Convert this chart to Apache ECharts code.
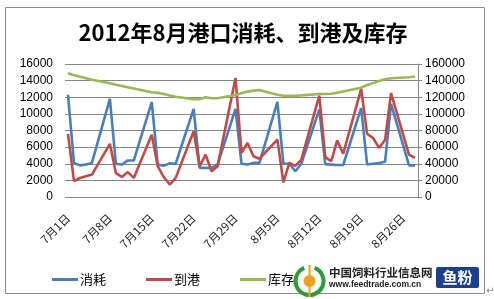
<!DOCTYPE html>
<html><head><meta charset="utf-8">
<script src="https://cdn.jsdelivr.net/npm/echarts@6/dist/echarts.min.js"></script>
<style>html,body{margin:0;padding:0;background:#fff}#c{width:494px;height:299px}</style>
</head><body><div id="c"></div>
<script>
const dates = ['7月1日','7月2日','7月3日','7月4日','7月5日','7月6日','7月7日','7月8日','7月9日','7月10日',
'7月11日','7月12日','7月13日','7月14日','7月15日','7月16日','7月17日','7月18日','7月19日','7月20日',
'7月21日','7月22日','7月23日','7月24日','7月25日','7月26日','7月27日','7月28日','7月29日','7月30日',
'7月31日','8月1日','8月2日','8月3日','8月4日','8月5日','8月6日','8月7日','8月8日','8月9日',
'8月10日','8月11日','8月12日','8月13日','8月14日','8月15日','8月16日','8月17日','8月18日','8月19日',
'8月20日','8月21日','8月22日','8月23日','8月24日','8月25日','8月26日','8月27日','8月28日'];
const consumption = [12300,4100,3800,3900,4100,null,null,11800,4000,3900,
4400,4400,null,null,11400,3900,3750,4050,4000,null,
null,10600,3500,3500,3500,3900,null,null,10600,4000,
3900,4100,4100,null,null,11450,4000,4000,3100,4000,
null,null,10550,3950,3900,3850,3850,null,null,10700,
3900,4000,4100,4250,11200,null,null,3800,3800];
const arrivals = [7600,1900,2300,2500,2700,null,null,6400,2900,2400,
3000,2300,null,null,7500,3700,2400,1500,2300,null,
null,7900,3700,5100,3100,3700,null,null,14300,5300,
6500,4900,4600,null,null,6900,1750,4100,3750,4500,
null,null,12200,4800,4300,6800,5200,null,null,13000,
7600,7100,5900,6900,12500,null,null,5100,4700];
const inventory = [148800,146500,144700,143000,141000,null,null,136800,135000,133500,
132000,130500,null,null,126000,125300,124000,122000,120500,null,
null,117600,117600,120000,118800,118800,null,null,122800,124800,
126800,128000,128800,null,null,123000,121800,121800,121800,122300,
null,null,124000,124000,124300,125500,127000,null,null,131500,
134800,137000,139500,141600,142800,null,null,144000,145000];
const seriesNames = ['消耗','到港','库存'];
const colors = ['#4A7EBB','#BE4B48','#98B954'];
const leftMax = 16000, leftStep = 2000, rightMax = 160000, rightStep = 20000;

const chart = echarts.init(document.getElementById('c'));
const lab = {color:'#000', fontSize:12, fontFamily:'Liberation Sans, Arial, sans-serif', formatter:v=>String(v)};
chart.setOption({
  animation:false,
  grid:[{left:68,right:79,top:64,bottom:102},{left:65,right:76,top:64,bottom:102}],
  xAxis:[
    {gridIndex:0,type:'category',boundaryGap:false,data:dates,
     axisLine:{show:false},axisTick:{show:false},splitLine:{show:false},
     axisLabel:{interval:6,rotate:45,margin:19,color:'#222',fontSize:11.5,fontFamily:'Noto Sans CJK SC, sans-serif'}},
    {gridIndex:1,type:'value',min:0,max:1,show:false}
  ],
  yAxis:[
    {gridIndex:0,type:'value',min:0,max:leftMax,interval:leftStep,show:false},
    {gridIndex:0,type:'value',min:0,max:rightMax,interval:rightStep,show:false,position:'right'},
    {gridIndex:1,type:'value',min:0,max:leftMax,interval:leftStep,position:'left',
     axisLine:{show:false},axisTick:{show:false},
     axisLabel:Object.assign({margin:12},lab),
     splitLine:{show:true,lineStyle:{color:'#868686',width:1}}},
    {gridIndex:1,type:'value',min:0,max:rightMax,interval:rightStep,position:'right',
     axisLine:{show:true,lineStyle:{color:'#868686'}},
     axisTick:{show:true,length:4,lineStyle:{color:'#868686'}},
     axisLabel:Object.assign({margin:7},lab),
     splitLine:{show:false}}
  ],
  legend:{left:47,top:268,itemWidth:26,itemHeight:3,itemGap:40,icon:'rect',
    textStyle:{fontSize:13,color:'#000',fontFamily:'Noto Sans CJK SC, sans-serif',padding:[0,0,0,-3]},
    data:seriesNames},
  series:[
    {name:seriesNames[0],type:'line',xAxisIndex:0,yAxisIndex:0,data:consumption,connectNulls:true,showSymbol:false,
     color:colors[0],lineStyle:{width:2.6,color:colors[0]}},
    {name:seriesNames[1],type:'line',xAxisIndex:0,yAxisIndex:0,data:arrivals,connectNulls:true,showSymbol:false,
     color:colors[1],lineStyle:{width:2.6,color:colors[1]}},
    {name:seriesNames[2],type:'line',xAxisIndex:0,yAxisIndex:1,data:inventory,connectNulls:true,showSymbol:false,
     color:colors[2],lineStyle:{width:2.6,color:colors[2]}}
  ],
  graphic:[
    {type:'rect',shape:{x:5.5,y:7.5,width:479,height:286},style:{fill:null,stroke:'#8c8c8c',lineWidth:1},silent:true,z:-1},
    {type:'text',x:243,y:33,style:{text:'2012年8月港口消耗、到港及库存',textAlign:'center',textVerticalAlign:'middle',
      font:'bold 22px "Noto Sans CJK SC", sans-serif',fill:'#000'}},
    {type:'text',x:486,y:291,style:{text:'↵',font:'10px "DejaVu Sans"',fill:'#888',textVerticalAlign:'middle'}},
    {type:'arc',shape:{cx:309.5,cy:281,r:14,startAngle:-Math.PI*0.38,endAngle:Math.PI*0.6},style:{stroke:'#2e9a3a',lineWidth:4,fill:null}},
    {type:'arc',shape:{cx:309.5,cy:281,r:14,startAngle:Math.PI*0.4,endAngle:Math.PI*1.38},style:{stroke:'#2e9a3a',lineWidth:4,fill:null}},
    {type:'circle',shape:{cx:309.5,cy:281,r:6},style:{fill:'#f0a020'}},
    {type:'line',shape:{x1:309.5,y1:265,x2:309.5,y2:297},style:{stroke:'#f0a020',lineWidth:2}},
    {type:'text',x:329,y:273,style:{text:'中国饲料行业信息网',font:'bold 11.5px "Noto Sans CJK SC", sans-serif',fill:'#222',textVerticalAlign:'middle'}},
    {type:'text',x:329,y:285,style:{text:'www.feedtrade.com.cn',font:'bold 8.5px "Liberation Sans", sans-serif',fill:'#222',textVerticalAlign:'middle'}},
    {type:'rect',shape:{x:436,y:267,width:43,height:21,r:2},style:{fill:'#1d3f8f'}},
    {type:'text',x:457.5,y:277.5,style:{text:'鱼粉',font:'bold 15px "Noto Sans CJK SC", sans-serif',fill:'#fff',textAlign:'center',textVerticalAlign:'middle'}}
  ]
});
</script></body></html>
